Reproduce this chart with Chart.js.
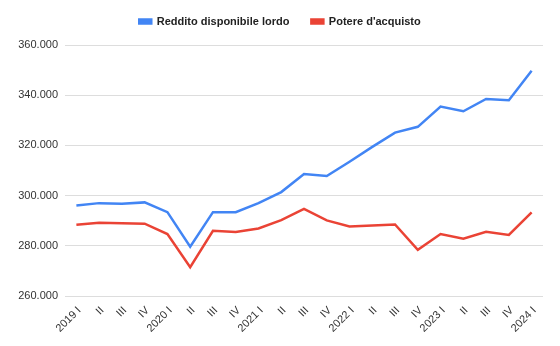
<!DOCTYPE html>
<html>
<head>
<meta charset="utf-8">
<script src="https://cdn.jsdelivr.net/npm/chart.js@4"></script>
<style>
  html, body { margin: 0; padding: 0; background: #ffffff; }
  #wrap { width: 560px; height: 346px; position: relative; }
</style>
</head>
<body>
<div id="wrap"><canvas id="chart" width="560" height="346"></canvas></div>
<script>
// Quarterly labels
const quarters = [
  "2019 I", "II", "III", "IV",
  "2020 I", "II", "III", "IV",
  "2021 I", "II", "III", "IV",
  "2022 I", "II", "III", "IV",
  "2023 I", "II", "III", "IV",
  "2024 I"
];

// Gross disposable income (millions of euro)
const redditoLordo = [
  296100, 297000, 296800, 297300,
  293400, 279600, 293400, 293400,
  297000, 301400, 308600, 307800,
  313500, 319400, 325100, 327400,
  335500, 333600, 338500, 338000,
  349700
];

// Purchasing power (millions of euro)
const potereAcquisto = [
  288400, 289200, 289000, 288800,
  284700, 271500, 286000, 285500,
  286900, 290200, 294700, 290100,
  287700, 288100, 288500, 278400,
  284700, 282800, 285600, 284300,
  293300
];

const seriesNames = ["Reddito disponibile lordo", "Potere d'acquisto"];
const yTicks = [260000, 280000, 300000, 320000, 340000, 360000];

const BLUE = "#4285F4";
const RED = "#EA4335";
const FONT = "'Liberation Sans', Arial, sans-serif";
const RIGHT_PAD = 17;      // space right of the plot area
const LEGEND_BLOCK = 45;   // height reserved above the plot area
const LEGEND_PAD = 22;     // spacing between legend entries
const LEGEND_LIFT = 6;     // raise the legend row inside its block

function formatIt(v) {
  return String(Math.round(v)).replace(/\B(?=(\d{3})+(?!\d))/g, ".");
}

// Fixed-height legend block; the entry row is centred on the full canvas
const legendBlock = {
  id: "legendBlock",
  beforeInit(chart) {
    const legend = chart.legend;
    if (!legend) return;
    const fit = legend.fit;
    legend.fit = function () {
      fit.call(this);
      this.height = LEGEND_BLOCK;
    };
    const draw = legend.draw;
    legend.draw = function () {
      const ctx = this.ctx;
      ctx.save();
      ctx.translate(RIGHT_PAD / 2, -LEGEND_LIFT);
      draw.call(this);
      ctx.restore();
    };
  }
};

new Chart(document.getElementById("chart"), {
  type: "line",
  data: {
    labels: quarters,
    datasets: [
      {
        label: seriesNames[0],
        data: redditoLordo,
        borderColor: BLUE,
        backgroundColor: BLUE,
        borderWidth: 2.5,
        pointRadius: 0,
        tension: 0
      },
      {
        label: seriesNames[1],
        data: potereAcquisto,
        borderColor: RED,
        backgroundColor: RED,
        borderWidth: 2.5,
        pointRadius: 0,
        tension: 0
      }
    ]
  },
  plugins: [legendBlock],
  options: {
    responsive: false,
    animation: false,
    devicePixelRatio: 1,
    layout: { padding: { left: 0, right: RIGHT_PAD, top: 0, bottom: 0 } },
    plugins: {
      legend: {
        position: "top",
        align: "center",
        labels: {
          boxWidth: 12,
          boxHeight: 4,
          padding: LEGEND_PAD,
          color: "#222222",
          font: { family: FONT, size: 11, weight: "bold" }
        }
      },
      tooltip: { enabled: false }
    },
    scales: {
      x: {
        offset: true,
        grid: { display: false },
        border: { display: false },
        ticks: {
          autoSkip: false,
          minRotation: 45,
          maxRotation: 45,
          padding: 0,
          labelOffset: 3,
          color: "#333333",
          font: { family: FONT, size: 11 }
        },
        afterFit(scale) { scale.height = 50; }
      },
      y: {
        min: 260000,
        max: 360000,
        afterBuildTicks(scale) {
          scale.ticks = yTicks.map(v => ({ value: v }));
        },
        grid: { color: "#dddddd", lineWidth: 1, drawTicks: false },
        border: { display: false },
        ticks: {
          padding: 7,
          color: "#333333",
          font: { family: FONT, size: 11 },
          callback: v => formatIt(v)
        },
        afterFit(scale) { scale.width = 65; }
      }
    }
  }
});
</script>
</body>
</html>
